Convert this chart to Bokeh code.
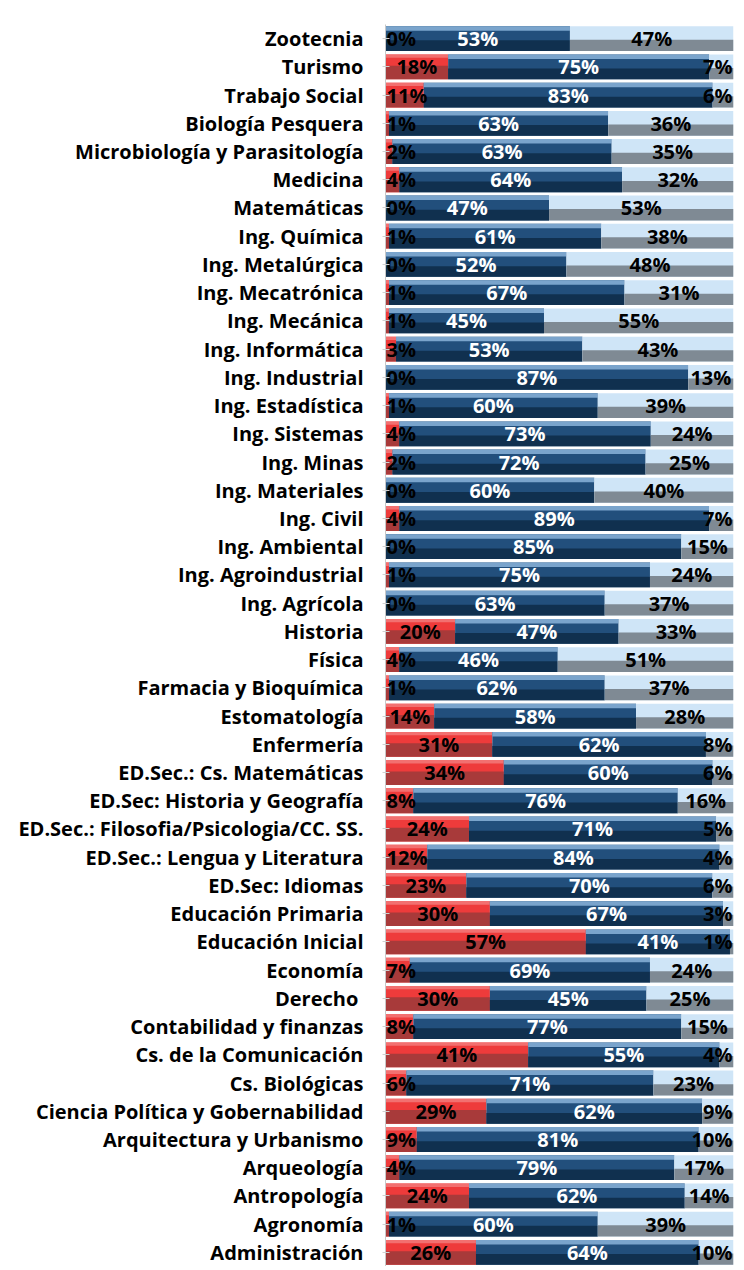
from bokeh.plotting import figure
from bokeh.models import ColumnDataSource, FactorRange
from bokeh.transform import dodge
from bokeh.core.properties import value
from bokeh.embed import file_html
from bokeh.resources import INLINE

carreras = [
    "Zootecnia", "Turismo", "Trabajo Social", "Biología Pesquera",
    "Microbiología y Parasitología", "Medicina", "Matemáticas", "Ing. Química",
    "Ing. Metalúrgica", "Ing. Mecatrónica", "Ing. Mecánica", "Ing. Informática",
    "Ing. Industrial", "Ing. Estadística", "Ing. Sistemas", "Ing. Minas",
    "Ing. Materiales", "Ing. Civil", "Ing. Ambiental", "Ing. Agroindustrial",
    "Ing. Agrícola", "Historia", "Física", "Farmacia y Bioquímica",
    "Estomatología", "Enfermería", "ED.Sec.: Cs. Matemáticas",
    "ED.Sec: Historia y Geografía", "ED.Sec.: Filosofia/Psicologia/CC. SS.",
    "ED.Sec.: Lengua y Literatura", "ED.Sec: Idiomas", "Educación Primaria",
    "Educación Inicial", "Economía", "Derecho ", "Contabilidad y finanzas",
    "Cs. de la Comunicación", "Cs. Biológicas",
    "Ciencia Política y Gobernabilidad", "Arquitectura y Urbanismo",
    "Arqueología", "Antropología", "Agronomía", "Administración",
]
rojo = [0, 18, 11, 1, 2, 4, 0, 1, 0, 1, 1, 3, 0, 1, 4, 2, 0, 4, 0, 1, 0, 20,
        4, 1, 14, 31, 34, 8, 24, 12, 23, 30, 57, 7, 30, 8, 41, 6, 29, 9, 4, 24,
        1, 26]
azul = [53, 75, 83, 63, 63, 64, 47, 61, 52, 67, 45, 53, 87, 60, 73, 72, 60,
        89, 85, 75, 63, 47, 46, 62, 58, 62, 60, 76, 71, 84, 70, 67, 41, 69, 45,
        77, 55, 71, 62, 81, 79, 62, 60, 64]
celeste = [47, 7, 6, 36, 35, 32, 53, 38, 48, 31, 55, 43, 13, 39, 24, 25, 40,
           7, 15, 24, 37, 33, 51, 37, 28, 8, 6, 16, 5, 4, 6, 3, 1, 24, 25, 15,
           4, 23, 9, 10, 17, 14, 39, 10]

# Normalise each row to 100 so the stack fills the bar (rounded shares)
tot = [r + a + c for r, a, c in zip(rojo, azul, celeste)]
r0 = [0.0] * len(carreras)
r1 = [r * 100.0 / t for r, t in zip(rojo, tot)]
a1 = [(r + a) * 100.0 / t for r, a, t in zip(rojo, azul, tot)]
c1 = [100.0] * len(carreras)

FS = 20            # label font size (px)
PX_PER_UNIT = 3.48  # frame width / 100


def place(x0, x1, v):
    """centre of the segment, kept so the label stays inside the frame"""
    half = (len(str(v)) * 0.57 + 0.87) * FS / 2 / PX_PER_UNIT + 0.4
    return min(max((x0 + x1) / 2, half), 100 - half)


src = ColumnDataSource(dict(
    cat=carreras, r0=r0, r1=r1, a1=a1, c1=c1,
    rl=[f"{v}%" for v in rojo], al=[f"{v}%" for v in azul],
    cl=[f"{v}%" for v in celeste],
    rx=[place(x0, x1, v) for x0, x1, v in zip(r0, r1, rojo)],
    ax=[place(x0, x1, v) for x0, x1, v in zip(r1, a1, azul)],
    cx=[place(x0, x1, v) for x0, x1, v in zip(a1, c1, celeste)],
))

factors = list(reversed(carreras))
p = figure(width=736, height=1266, output_backend="svg", toolbar_location=None,
           y_range=FactorRange(*factors, range_padding=0), x_range=(0, 100),
           min_border_left=385, min_border_right=3, min_border_top=24,
           min_border_bottom=0)
p.outline_line_color = None
p.xaxis.visible = False
p.xgrid.visible = False
p.ygrid.visible = False
p.background_fill_color = "white"

H = 0.88
yr = p.y_range
# red segments
p.hbar(y="cat", left="r0", right="r1", height=H, source=src,
       fill_color="#ee3b3b", line_color=None)
p.hbar(y=dodge("cat", -0.2, range=yr), left="r0", right="r1", height=0.48,
       source=src, fill_color="#a83a3a", line_color=None)
p.hbar(y=dodge("cat", 0.38, range=yr), left="r0", right="r1", height=0.12,
       source=src, fill_color="#f27070", line_color=None)
# dark blue segments
p.hbar(y="cat", left="r1", right="a1", height=H, source=src,
       fill_color="#224f7c", line_color=None)
p.hbar(y=dodge("cat", -0.25, range=yr), left="r1", right="a1", height=0.38,
       source=src, fill_color="#10304f", line_color=None)
p.hbar(y=dodge("cat", 0.36, range=yr), left="r1", right="a1", height=0.16,
       source=src, fill_color="#7aa4cc", line_color=None)
# light segments
p.hbar(y="cat", left="a1", right="c1", height=H, source=src,
       fill_color="#cfe5f7", line_color=None)
p.hbar(y=dodge("cat", -0.24, range=yr), left="a1", right="c1", height=0.40,
       source=src, fill_color="#7f8a94", line_color=None)

lab = dict(source=src, text_font=value("Open Sans"), text_font_style="bold",
           text_font_size=f"{FS}px", text_align="center",
           text_baseline="middle")
p.text(x="rx", y="cat", text="rl", text_color="black", **lab)
p.text(x="ax", y="cat", text="al", text_color="white", **lab)
p.text(x="cx", y="cat", text="cl", text_color="black", **lab)

ax = p.yaxis[0]
ax.axis_line_color = "#c8c8c8"
ax.major_tick_line_color = "#d0d0d0"
ax.major_tick_in = 4
ax.major_tick_out = 3
ax.minor_tick_line_color = None
ax.major_label_standoff = 19
ax.major_label_text_font = "Open Sans"
ax.major_label_text_font_style = "bold"
ax.major_label_text_font_size = "20px"
ax.major_label_text_color = "black"

open("out.html", "w").write(file_html(p, INLINE))
